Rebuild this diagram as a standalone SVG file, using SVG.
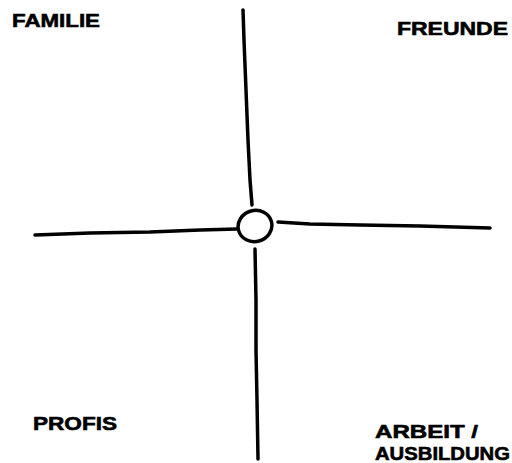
<svg xmlns="http://www.w3.org/2000/svg" width="512" height="463" viewBox="0 0 512 463">
<style>
.ax{fill:none;stroke:#000;stroke-width:3.5;stroke-linecap:round;stroke-linejoin:round}
.lb{font-family:"Liberation Sans",Arial,sans-serif;font-weight:bold;fill:#000;font-size:19px;stroke:#000;stroke-width:0.6}
</style>
<rect width="512" height="463" fill="#fff"/>
<g id="connectors">
<path class="ax" d="M243,10 L244,40 L246,90 L248,140 L250,180 L252,205"/>
<path class="ax" d="M255,249 L256,300 L256,350 L257,400 L258,459"/>
<path class="ax" d="M35,235 L90,233 L150,232 L200,230 L237,229"/>
<path class="ax" d="M278,222 L310,224 L360,225 L420,226 L490,228"/>
</g>
<g id="center">
<ellipse class="ax" cx="255" cy="226" rx="17" ry="15.5" transform="rotate(-15 255 226)"/>
</g>
<g id="familie"><text class="lb" x="12" y="27" textLength="88" lengthAdjust="spacingAndGlyphs">FAMILIE</text></g>
<g id="freunde"><text class="lb" x="397" y="35" textLength="111" lengthAdjust="spacingAndGlyphs">FREUNDE</text></g>
<g id="profis"><text class="lb" x="33" y="430" textLength="84" lengthAdjust="spacingAndGlyphs">PROFIS</text></g>
<g id="arbeit"><text class="lb" x="375" y="438" textLength="103" lengthAdjust="spacingAndGlyphs">ARBEIT /</text>
<text class="lb" x="375" y="460" textLength="135" lengthAdjust="spacingAndGlyphs">AUSBILDUNG</text></g>
</svg>
